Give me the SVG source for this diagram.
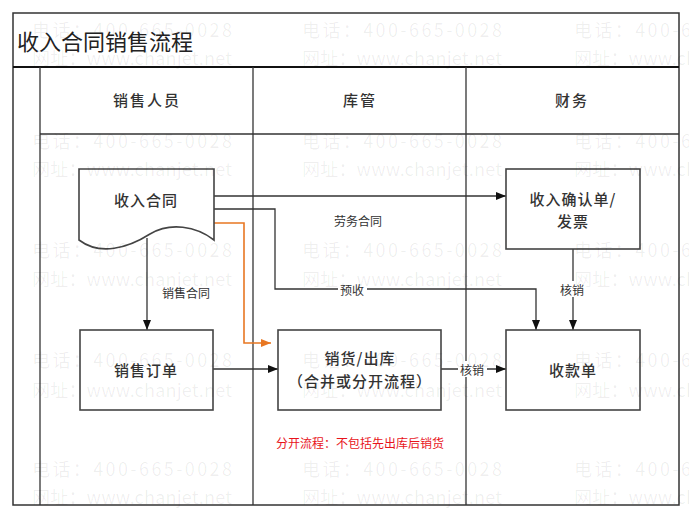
<svg xmlns="http://www.w3.org/2000/svg" width="689" height="516" viewBox="0 0 689 516">
<style>
.t{font-family:"Noto Sans CJK SC","Liberation Sans",sans-serif;fill:#333;text-anchor:middle;dominant-baseline:central}
.node{font-size:15px;letter-spacing:1px;font-weight:500}
.hdr{font-size:15px;letter-spacing:2px;font-weight:500}
.lbl{font-size:12px}
.box{fill:#fff;stroke:#444;stroke-width:1.6}
.ln{fill:none;stroke:#333;stroke-width:1.3}
.lane{fill:none;stroke:#333;stroke-width:1.3}
.wm{font-family:"Noto Sans CJK SC","DejaVu Sans",sans-serif;font-size:18px;fill:#000;fill-opacity:0.065}
</style>
<defs>
<marker id="ah" markerUnits="userSpaceOnUse" markerWidth="10" markerHeight="10" viewBox="0 0 10 10" refX="10" refY="5" orient="auto">
<path d="M0,1 L10,5 L0,9 Z" fill="#111"/>
</marker>
<marker id="aho" markerUnits="userSpaceOnUse" markerWidth="10" markerHeight="10" viewBox="0 0 10 10" refX="10" refY="5" orient="auto">
<path d="M0,1 L10,5 L0,9 Z" fill="#E87722"/>
</marker>
</defs>
<rect width="689" height="516" fill="#fff"/>
<g id="frame">
<rect x="13" y="13" width="666" height="492" fill="none" stroke="#333" stroke-width="1.5"/>
<line x1="13" y1="67" x2="679" y2="67" stroke="#111" stroke-width="2"/>
<line x1="40" y1="134" x2="679" y2="134" class="lane"/>
<line x1="40" y1="67" x2="40" y2="505" class="lane"/>
<line x1="253" y1="67" x2="253" y2="505" class="lane"/>
<line x1="466" y1="67" x2="466" y2="505" class="lane"/>
<text x="17" y="40" font-family="Noto Sans CJK SC,sans-serif" font-size="22" fill="#222" dominant-baseline="central">收入合同销售流程</text>
<text class="t hdr" x="147" y="99">销售人员</text>
<text class="t hdr" x="360" y="99">库管</text>
<text class="t hdr" x="572" y="99">财务</text>
</g>
<g id="connectors">
<path class="ln" d="M214,196 H506" marker-end="url(#ah)"/>
<path class="ln" d="M214,209 H275 V289 H536 V330" marker-end="url(#ah)"/>
<path d="M214,223 H244 V343 H271" fill="none" stroke="#E87722" stroke-width="1.6" marker-end="url(#aho)"/>
<path class="ln" d="M147,238 V330" marker-end="url(#ah)"/>
<path class="ln" d="M213,369 H278" marker-end="url(#ah)"/>
<path class="ln" d="M441,369 H506" marker-end="url(#ah)"/>
<path class="ln" d="M573,249 V330" marker-end="url(#ah)"/>
<text class="t lbl" x="358" y="220">劳务合同</text>
<rect x="338" y="281" width="29" height="16" fill="#fff"/>
<text class="t lbl" x="352" y="289">预收</text>
<text class="t lbl" x="186" y="292">销售合同</text>
<rect x="458" y="361" width="29" height="16" fill="#fff"/>
<text class="t lbl" x="472" y="369">核销</text>
<rect x="558" y="281" width="29" height="16" fill="#fff"/>
<text class="t lbl" x="572" y="289">核销</text>
</g>
<g id="n-contract">
<path class="box" d="M79,169 H214 V240 C196,226 170,222 150,234 C128,248 100,256 79,240 Z"/>
<text class="t node" x="146" y="199">收入合同</text>
</g>
<g id="n-order">
<rect class="box" x="80" y="330" width="133" height="80"/>
<text class="t node" x="146" y="369">销售订单</text>
</g>
<g id="n-ship">
<rect class="box" x="278" y="330" width="163" height="80"/>
<text class="t node" x="360" y="357">销货/出库</text>
<text class="t node" x="360" y="380">（合并或分开流程）</text>
</g>
<g id="n-receipt">
<rect class="box" x="506" y="330" width="134" height="80"/>
<text class="t node" x="573" y="369">收款单</text>
</g>
<g id="n-invoice">
<rect class="box" x="506" y="169" width="134" height="80"/>
<text class="t node" x="573" y="198">收入确认单/</text>
<text class="t node" x="573" y="220">发票</text>
</g>
<g id="note">
<text class="t" x="360" y="442" font-size="12" style="fill:#e8141b">分开流程：不包括先出库后销货</text>
</g>
<g id="watermark">
<text class="wm" x="32" y="37" textLength="200" lengthAdjust="spacing">电话：400-665-0028</text>
<text class="wm" x="302" y="37" textLength="200" lengthAdjust="spacing">电话：400-665-0028</text>
<text class="wm" x="574" y="37" textLength="200" lengthAdjust="spacing">电话：400-665-0028</text>
<text class="wm" x="32" y="65" textLength="200" lengthAdjust="spacing">网址：www.chanjet.net</text>
<text class="wm" x="302" y="65" textLength="200" lengthAdjust="spacing">网址：www.chanjet.net</text>
<text class="wm" x="574" y="65" textLength="200" lengthAdjust="spacing">网址：www.chanjet.net</text>
<text class="wm" x="32" y="148" textLength="200" lengthAdjust="spacing">电话：400-665-0028</text>
<text class="wm" x="302" y="148" textLength="200" lengthAdjust="spacing">电话：400-665-0028</text>
<text class="wm" x="574" y="148" textLength="200" lengthAdjust="spacing">电话：400-665-0028</text>
<text class="wm" x="32" y="176" textLength="200" lengthAdjust="spacing">网址：www.chanjet.net</text>
<text class="wm" x="302" y="176" textLength="200" lengthAdjust="spacing">网址：www.chanjet.net</text>
<text class="wm" x="574" y="176" textLength="200" lengthAdjust="spacing">网址：www.chanjet.net</text>
<text class="wm" x="32" y="257" textLength="200" lengthAdjust="spacing">电话：400-665-0028</text>
<text class="wm" x="302" y="257" textLength="200" lengthAdjust="spacing">电话：400-665-0028</text>
<text class="wm" x="574" y="257" textLength="200" lengthAdjust="spacing">电话：400-665-0028</text>
<text class="wm" x="32" y="286" textLength="200" lengthAdjust="spacing">网址：www.chanjet.net</text>
<text class="wm" x="302" y="286" textLength="200" lengthAdjust="spacing">网址：www.chanjet.net</text>
<text class="wm" x="574" y="286" textLength="200" lengthAdjust="spacing">网址：www.chanjet.net</text>
<text class="wm" x="32" y="367" textLength="200" lengthAdjust="spacing">电话：400-665-0028</text>
<text class="wm" x="302" y="367" textLength="200" lengthAdjust="spacing">电话：400-665-0028</text>
<text class="wm" x="574" y="367" textLength="200" lengthAdjust="spacing">电话：400-665-0028</text>
<text class="wm" x="32" y="397" textLength="200" lengthAdjust="spacing">网址：www.chanjet.net</text>
<text class="wm" x="302" y="397" textLength="200" lengthAdjust="spacing">网址：www.chanjet.net</text>
<text class="wm" x="574" y="397" textLength="200" lengthAdjust="spacing">网址：www.chanjet.net</text>
<text class="wm" x="32" y="476" textLength="200" lengthAdjust="spacing">电话：400-665-0028</text>
<text class="wm" x="302" y="476" textLength="200" lengthAdjust="spacing">电话：400-665-0028</text>
<text class="wm" x="574" y="476" textLength="200" lengthAdjust="spacing">电话：400-665-0028</text>
<text class="wm" x="32" y="504" textLength="200" lengthAdjust="spacing">网址：www.chanjet.net</text>
<text class="wm" x="302" y="504" textLength="200" lengthAdjust="spacing">网址：www.chanjet.net</text>
<text class="wm" x="574" y="504" textLength="200" lengthAdjust="spacing">网址：www.chanjet.net</text>
</g>
</svg>
